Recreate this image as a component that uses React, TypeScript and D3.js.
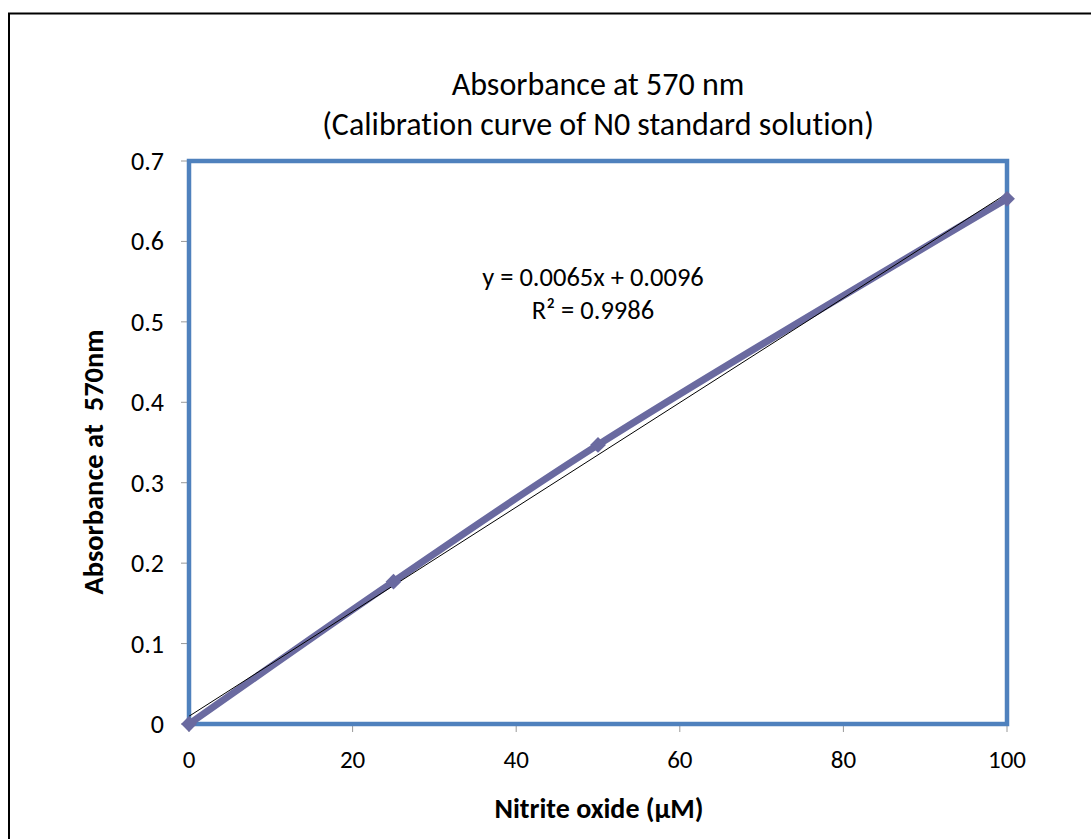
import React from "react";
import * as d3 from "d3";

const xValues = [0, 25, 50, 100];
const yValues = [0, 0.177, 0.347, 0.653];
const xTicks = [0, 20, 40, 60, 80, 100];
const yTicks = [0, 0.1, 0.2, 0.3, 0.4, 0.5, 0.6, 0.7];
const slope = 0.0065;
const intercept = 0.0096;
const titleLines = ["Absorbance at 570 nm", "(Calibration curve of N0 standard solution)"];
const eqLines = ["y = 0.0065x + 0.0096", "R² = 0.9986"];
const xTitle = "Nitrite oxide (µM)";
const yTitle = "Absorbance at  570nm";

export default function App() {
  const W = 1091, H = 839;
  const left = 189, right = 1007, top = 161, bottom = 724;
  const x = d3.scaleLinear().domain([0, 100]).range([left, right]);
  const y = d3.scaleLinear().domain([0, 0.7]).range([bottom, top]);
  const pts: [number, number][] = xValues.map((v, i) => [v, yValues[i]]);
  const line = d3.line<[number, number]>().x(d => x(d[0])).y(d => y(d[1])).curve(d3.curveCatmullRom.alpha(0.5));
  const font = "Carlito, 'Open Sans', Calibri, sans-serif";
  const diamond = d3.symbol().type(d3.symbolDiamond2).size(160)();
  return (
    <svg width={W} height={H} style={{ position: "absolute", left: 0, top: 0 }} fontFamily={font}>
      <rect x={0} y={0} width={W} height={H} fill="#fff" />
      <rect x={9} y={13.5} width={W + 20} height={H + 20} fill="none" stroke="#000" strokeWidth={2} />
      {titleLines.map((t, i) => (
        <text key={i} x={598} y={95 + i * 40} textAnchor="middle" fontSize={32} fill="#000" style={{ fontVariantLigatures: "none" }}>{t}</text>
      ))}
      {yTicks.map(t => (
        <g key={t}>
          <line x1={left - 8} x2={left} y1={y(t)} y2={y(t)} stroke="#999" strokeWidth={1} />
          <text x={164} y={y(t) + 9} textAnchor="end" fontSize={26} fill="#000">{t === 0 ? "0" : d3.format(".1f")(t)}</text>
        </g>
      ))}
      {xTicks.map(t => (
        <g key={t}>
          <line x1={x(t)} x2={x(t)} y1={bottom} y2={bottom + 8} stroke="#999" strokeWidth={1} />
          <text x={x(t)} y={768} textAnchor="middle" fontSize={25} fill="#000">{t}</text>
        </g>
      ))}
      <rect x={left} y={top} width={right - left} height={bottom - top} fill="none" stroke="#4F81BD" strokeWidth={4.5} />
      <path d={line(pts) || ""} fill="none" stroke="#6A6AA0" strokeWidth={7} strokeLinejoin="round" />
      <line x1={x(0)} y1={y(intercept)} x2={x(100)} y2={y(intercept + slope * 100)} stroke="#000" strokeWidth={1} />
      {pts.map((p, i) => (
        <path key={i} d={diamond || ""} transform={`translate(${x(p[0])},${y(p[1])})`} fill="#6A6AA0" />
      ))}
      {eqLines.map((t, i) => (
        <text key={i} x={593} y={286 + i * 33} textAnchor="middle" fontSize={26.5} fill="#000">{t}</text>
      ))}
      <text x={599} y={818} textAnchor="middle" fontSize={28} fontWeight="bold" fill="#000" style={{ fontVariantLigatures: "none" }}>{xTitle}</text>
      <text transform={`translate(103,462) rotate(-90)`} textAnchor="middle" fontSize={28.5} fontWeight="bold" fill="#000" style={{ whiteSpace: "pre" }}>{yTitle}</text>
    </svg>
  );
}
